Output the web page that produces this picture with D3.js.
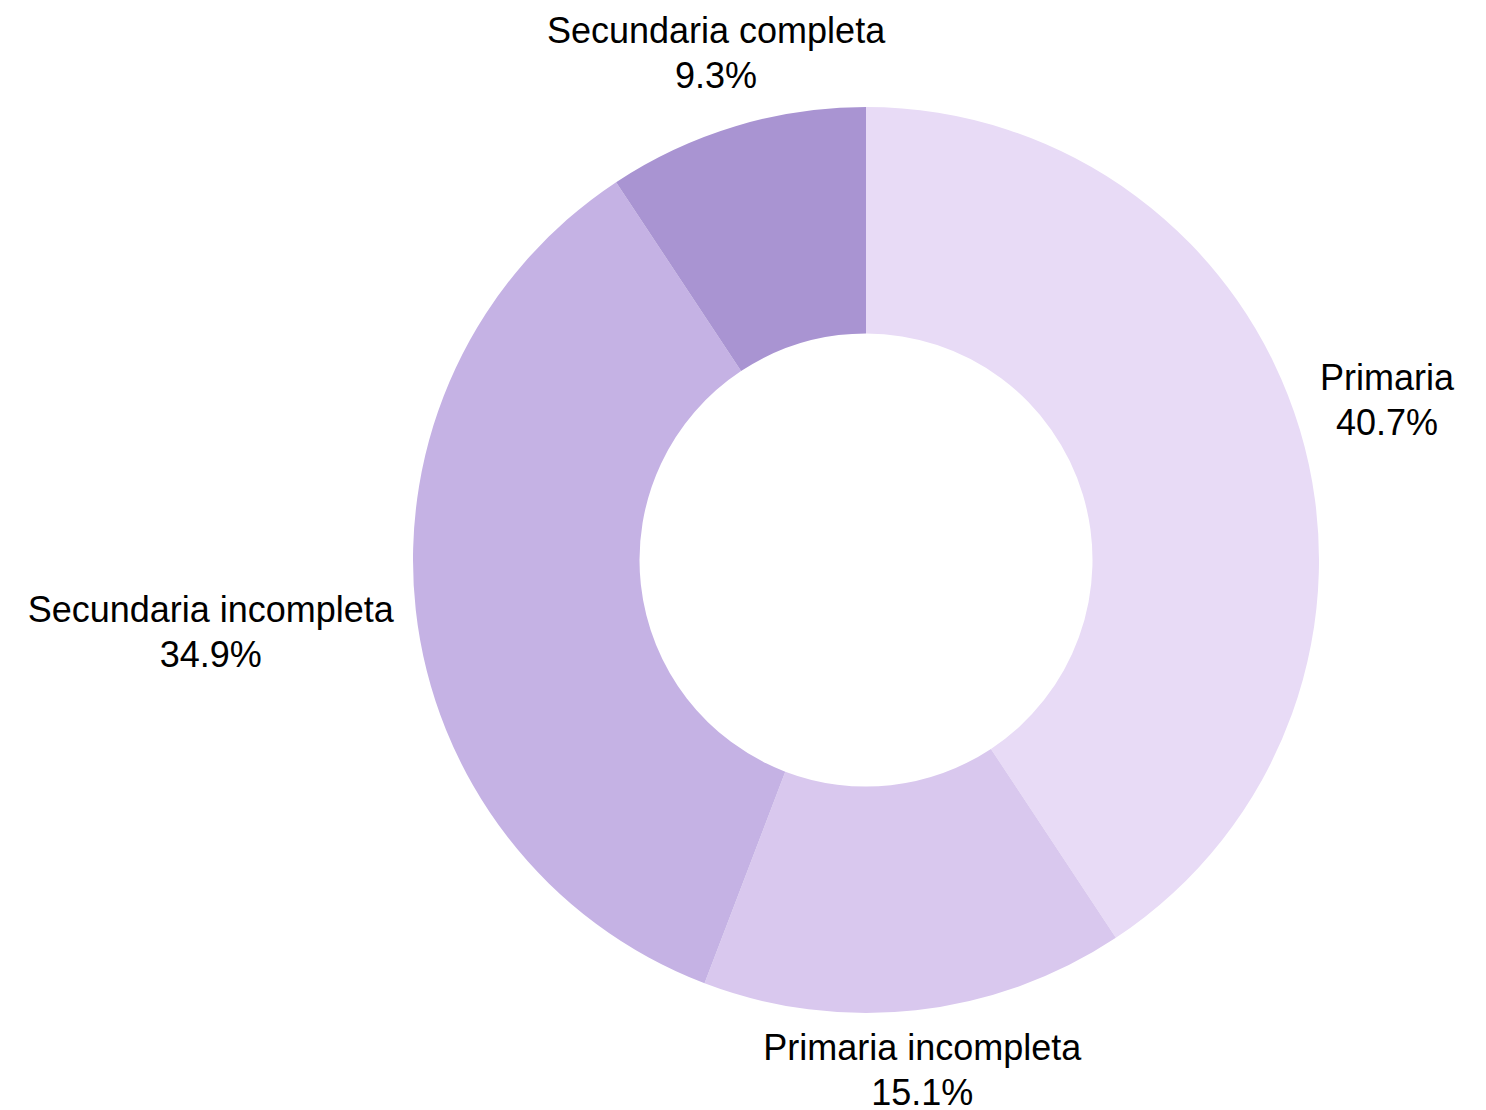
<!DOCTYPE html>
<html>
<head>
<meta charset="utf-8">
<script src="https://cdn.jsdelivr.net/npm/d3@7"></script>
<style>
  html, body { margin: 0; padding: 0; background: #fff; }
  svg { display: block; }
</style>
</head>
<body>
<div id="chart"></div>
<script>
// data, clockwise from 12 o'clock
const categories = ["Primaria", "Primaria incompleta", "Secundaria incompleta", "Secundaria completa"];
const shares = [40.7, 15.1, 34.9, 9.3];
const sliceColors = ["#e8dbf6", "#d9c8ee", "#c5b2e4", "#a994d2"];

const width = 1486, height = 1110;
const cx = 866, cy = 560,
      outerR = 453, innerR = 226.5,
      labelGap = 21,
      fontSize = 36, lineHeight = 45;

const svg = d3.select("#chart").append("svg")
    .attr("width", width)
    .attr("height", height);

const g = svg.append("g").attr("transform", `translate(${cx},${cy})`);

const pie = d3.pie().sort(null).value(d => d.value);
const arc = d3.arc().innerRadius(innerR).outerRadius(outerR);

const color = d3.scaleOrdinal().domain(categories).range(sliceColors);

const arcs = pie(categories.map((c, i) => ({ name: c, value: shares[i] })));

g.selectAll("path.slice")
  .data(arcs)
  .join("path")
    .attr("class", "slice")
    .attr("d", arc)
    .attr("fill", d => color(d.data.name));

// labels: name + share, block pushed out along the mid angle until it clears the ring
const labels = g.selectAll("text.label")
  .data(arcs)
  .join("text")
    .attr("class", "label")
    .attr("text-anchor", "middle")
    .style("font-family", "'Liberation Sans', Arial, Helvetica, sans-serif")
    .style("font-size", fontSize + "px")
    .attr("fill", "#000");

labels.selectAll("tspan")
  .data(d => [d.data.name, d3.format(".1f")(d.data.value) + "%"])
  .join("tspan")
    .attr("x", 0)
    .attr("y", (d, i) => i * lineHeight)
    .text(d => d);

labels.each(function(d) {
  const el = d3.select(this);
  const bb = this.getBBox();
  const mid = (d.startAngle + d.endAngle) / 2;
  const sx = Math.sin(mid), sy = -Math.cos(mid);
  // distance from box centre to its edge along the ray
  const ex = Math.abs(sx) > 1e-6 ? (bb.width / 2) / Math.abs(sx) : Infinity;
  const ey = Math.abs(sy) > 1e-6 ? (bb.height / 2) / Math.abs(sy) : Infinity;
  const dist = outerR + labelGap + Math.min(ex, ey);
  const tx = sx * dist - (bb.x + bb.width / 2);
  // small upward nudge, stronger for labels above the ring
  const nudge = (sy < 0 ? 11 : 4) * Math.abs(sy);
  const ty = sy * dist - (bb.y + bb.height / 2) - nudge;
  el.attr("transform", `translate(${tx},${ty})`);
});
</script>
</body>
</html>
